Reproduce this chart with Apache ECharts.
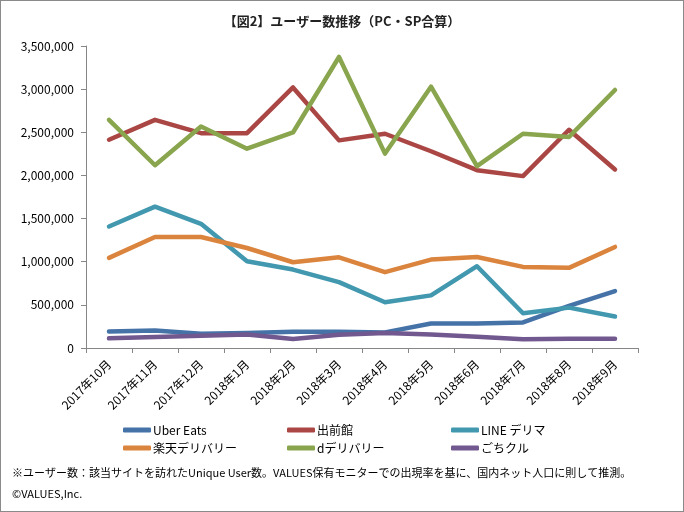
<!DOCTYPE html>
<html><head><meta charset="utf-8">
<script src="https://cdn.jsdelivr.net/npm/echarts@6/dist/echarts.min.js"></script>
<style>
html,body{margin:0;padding:0;background:#fff;}
#c{width:684px;height:512px;box-sizing:border-box;border:1px solid #8a8a8a;}
</style></head><body>
<div id="c"></div>
<script>
const categories = ['2017年10月','2017年11月','2017年12月','2018年1月','2018年2月','2018年3月','2018年4月','2018年5月','2018年6月','2018年7月','2018年8月','2018年9月'];
const uberEats   = [192000, 204000, 165000, 173000, 188000, 188000, 181000, 284000, 284000, 296000, 487000, 660000];
const demaekan   = [2414000, 2644000, 2490000, 2490000, 3020000, 2406000, 2483000, 2280000, 2061000, 1992000, 2529000, 2069000];
const lineDelima = [1408000, 1638000, 1439000, 1005000, 909000, 763000, 530000, 610000, 948000, 403000, 468000, 365000];
const rakuten    = [1044000, 1286000, 1286000, 1159000, 994000, 1051000, 879000, 1025000, 1055000, 940000, 929000, 1171000];
const dDelivery  = [2644000, 2118000, 2567000, 2310000, 2498000, 3373000, 2253000, 3028000, 2107000, 2483000, 2445000, 2990000];
const gochikuru  = [112000, 127000, 142000, 157000, 104000, 153000, 173000, 157000, 130000, 100000, 107000, 107000];
const seriesNames = ['Uber Eats','出前館','LINE デリマ','楽天デリバリー','dデリバリー','ごちクル'];
const seriesData = [uberEats, demaekan, lineDelima, rakuten, dDelivery, gochikuru];
const colors = ['#4572A7','#AA4643','#4198AF','#DB843D','#89A54E','#71588F'];

const FONT = '"Noto Sans CJK JP", sans-serif';
const chart = echarts.init(document.getElementById('c'));
function fmt(v){ return String(v).replace(/\B(?=(\d{3})+(?!\d))/g, ','); }
const legendCommon = {
  orient: 'vertical', top: 418, itemWidth: 28, itemHeight: 5, itemGap: 6,
  icon: 'roundRect',
  textStyle: {fontFamily: FONT, fontSize: 12, color: '#000', padding: [0,0,0,-3]}
};
chart.setOption({
  animation: false,
  color: colors,
  title: {
    text: '【図2】ユーザー数推移（PC・SP合算）',
    left: 'center', top: 9,
    textStyle: {fontFamily: FONT, fontSize: 13, fontWeight: 'bold', color: '#222'}
  },
  legend: [
    Object.assign({left: 117, data: [seriesNames[0], seriesNames[3]]}, legendCommon),
    Object.assign({left: 281, data: [seriesNames[1], seriesNames[4]]}, legendCommon),
    Object.assign({left: 445, data: [seriesNames[2], seriesNames[5]]}, legendCommon)
  ],
  grid: {left: 85, right: 45, top: 45, bottom: 163, containLabel: false},
  xAxis: {
    type: 'category', data: categories, boundaryGap: true,
    axisLine: {lineStyle: {color: '#868686', width: 1}},
    axisTick: {show: true, length: 5, lineStyle: {color: '#868686'}},
    axisLabel: {interval: 0, rotate: 45, margin: 14, fontFamily: FONT, fontSize: 12, color: '#000'}
  },
  yAxis: {
    type: 'value', min: 0, max: 3500000, interval: 500000,
    axisLine: {show: true, lineStyle: {color: '#868686', width: 1}},
    axisTick: {show: true, length: 5, lineStyle: {color: '#868686'}},
    splitLine: {show: false},
    axisLabel: {formatter: fmt, margin: 12, fontFamily: FONT, fontSize: 12, color: '#000'}
  },
  graphic: [
    {type: 'text', left: 11, top: 466, style: {text: '※ユーザー数：該当サイトを訪れたUnique User数。VALUES保有モニターでの出現率を基に、国内ネット人口に則して推測。', font: '11px ' + FONT, fill: '#000'}},
    {type: 'text', left: 11, top: 487, style: {text: '©VALUES,Inc.', font: '11px ' + FONT, fill: '#000'}}
  ],
  series: seriesNames.map((n, i) => ({
    name: n, type: 'line', data: seriesData[i],
    showSymbol: false, symbol: 'none',
    lineStyle: {width: 4.5, cap: 'round', join: 'round'}
  }))
});
</script>
</body></html>
